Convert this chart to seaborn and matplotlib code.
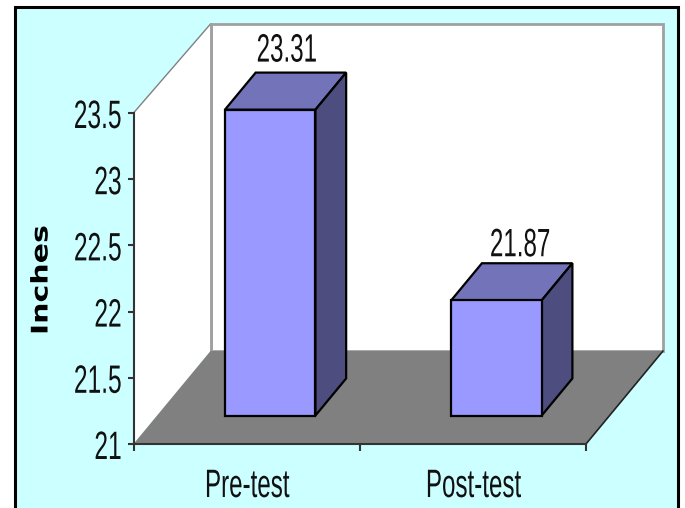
import numpy as np
import matplotlib
matplotlib.use("Agg")
import matplotlib.pyplot as plt
from matplotlib.patches import Polygon, Rectangle
from matplotlib.patheffects import AbstractPathEffect
from matplotlib.transforms import Affine2D
import seaborn as sns
import pandas as pd

categories = ["Pre-test", "Post-test"]
values = [23.31, 21.87]
y_ticks = [21, 21.5, 22, 22.5, 23, 23.5]
y_tick_labels = ["21", "21.5", "22", "22.5", "23", "23.5"]
y_label = "Inches"

W, H = 685, 508
PX = 0.72  # points per pixel at dpi 100
sns.set_theme(style="white")
FONT = "Liberation Sans"
FS = 28.5
TXT = "#111111"


class Stretch(AbstractPathEffect):
    """Condense or widen real text along its baseline."""
    def __init__(self, sx, anchor="center"):
        super().__init__()
        self.sx, self.anchor = sx, anchor

    def draw_path(self, renderer, gc, tpath, affine, rgbFace=None):
        ext = tpath.get_extents()
        cx = ext.x1 if self.anchor == "right" else (ext.x0 + ext.x1) / 2
        t = Affine2D().translate(-cx, 0).scale(self.sx, 1).translate(cx, 0)
        renderer.draw_path(gc, tpath, t + affine, rgbFace)


fig = plt.figure(figsize=(W / 100, H / 100), dpi=100, facecolor="white")
fig.add_artist(Rectangle((14.5 / W, -0.02), (678 - 14.5) / W, 1.02 - 7 / H,
                         transform=fig.transFigure, facecolor="#CCFFFF",
                         edgecolor="black", linewidth=2.2, zorder=-10))

ax = fig.add_axes([133.5 / W, (H - 444) / H, 452.5 / W, 331 / H])
ax.patch.set_alpha(0)

df = pd.DataFrame({"group": categories, "value": values})
sns.barplot(data=df, x="group", y="value", ax=ax, width=0.4, color="#9999FF",
            saturation=1, edgecolor="black", linewidth=1.6, zorder=6)
bars = list(ax.patches)
ax.set_xlim(-0.5, 1.5)
ax.set_ylim(21, 23.5)

# oblique depth: one unit of depth in data units
DX, DY = 77 / 226.25, 93 / 132.4
def pr(x, y, d=0.0):
    return (x + DX * d, y + DY * d)

y0, y1 = 21, 23.5
yw = y1 - 4 / 132.4  # top of the back wall sits slightly lower
x0, x1 = -0.5, 1.5
wall = "#A0A0A0"
# back wall, side wall, floor
ax.add_patch(Polygon([pr(x0, y0, 1), pr(x1, y0, 1), pr(x1, yw, 1), pr(x0, yw, 1)],
                     closed=True, fc="white", ec=wall, lw=2, clip_on=False, zorder=1))
ax.add_patch(Polygon([pr(x0, y0, 0), pr(x0, y0, 1), pr(x0, yw, 1), pr(x0, y1, 0)],
                     closed=True, fc="white", ec="none", clip_on=False, zorder=1))
ax.plot(*zip(pr(x0, y1, 0), pr(x0, yw, 1)), color="#808080", lw=1, clip_on=False, zorder=2)
ax.plot(*zip(pr(x0, yw, 1), pr(x0, y0, 1)), color=wall, lw=2, clip_on=False, zorder=2)
ax.add_patch(Polygon([pr(x0, y0, 0), pr(x1, y0, 0), pr(x1, y0, 1), pr(x0, y0, 1)],
                     closed=True, fc="#808080", ec="none", clip_on=False, zorder=3))
ax.plot(*zip(pr(x1, y0, 0), pr(x1, y0, 1)), color="#222222", lw=1.2, clip_on=False, zorder=3)

# bars: front face from seaborn, moved into the depth; top and side faces added
d_front, d_back = 0.306, 0.705
label_offsets = [(-14, 11), (-7, 7)]  # pixels from the back-top edge's middle
for patch, v, off in zip(bars, values, label_offsets):
    xl = patch.get_x()
    w = patch.get_width()
    px, py = pr(xl, y0, d_front)
    patch.set_x(px)
    patch.set_y(py)
    patch.set_height(v - y0)
    patch.set_clip_on(False)
    xr = xl + w
    ax.add_patch(Polygon([pr(xl, v, d_front), pr(xr, v, d_front), pr(xr, v, d_back), pr(xl, v, d_back)],
                         closed=True, fc="#7373B9", ec="black", lw=1.6, clip_on=False,
                         joinstyle="miter", zorder=5))
    ax.add_patch(Polygon([pr(xr, y0, d_front), pr(xr, y0, d_back), pr(xr, v, d_back), pr(xr, v, d_front)],
                         closed=True, fc="#4D4D80", ec="black", lw=1.6, clip_on=False,
                         joinstyle="miter", zorder=5))
    ax.annotate(f"{v:.2f}", xy=pr((xl + xr) / 2, v, d_back),
                xytext=(off[0] * PX, off[1] * PX), textcoords="offset points",
                ha="center", va="baseline", fontsize=FS, family=FONT, color=TXT,
                annotation_clip=False, zorder=7, path_effects=[Stretch(0.61)])

ax.set_yticks(y_ticks)
labs = ax.set_yticklabels(y_tick_labels, family=FONT, fontsize=FS, color=TXT)
for t in labs:
    t.set_path_effects([Stretch(0.62, "right")])
ax.set_xticks([-0.5, 0.5, 1.5], minor=False)
ax.set_xticklabels(["", "", ""])
ax.tick_params(axis="y", length=4, width=1.5, color="#333333", pad=4, left=True)
ax.tick_params(axis="x", length=5, width=1.5, color="#333333", bottom=True, direction="out")
for i, c in enumerate(categories):
    ax.annotate(c, xy=(i, y0), xytext=(0, -53 * PX), textcoords="offset points",
                ha="center", va="baseline", family=FONT, fontsize=FS, color=TXT,
                annotation_clip=False, path_effects=[Stretch(0.61)])
ax.set_xlabel("")
ax.set_ylabel("")
fig.text(41 / W, 1 - 280 / H, y_label, rotation=90, ha="center", va="center",
         fontsize=16.5, fontweight="bold", family="DejaVu Sans", color="black",
         path_effects=[Stretch(1.31)])

for s in ("top", "right"):
    ax.spines[s].set_visible(False)
for s in ("left", "bottom"):
    ax.spines[s].set_visible(True)
    ax.spines[s].set_color("#333333")
    ax.spines[s].set_linewidth(1.5)
    ax.spines[s].set_zorder(4)

fig.savefig("out.png", dpi=100, facecolor="white")
